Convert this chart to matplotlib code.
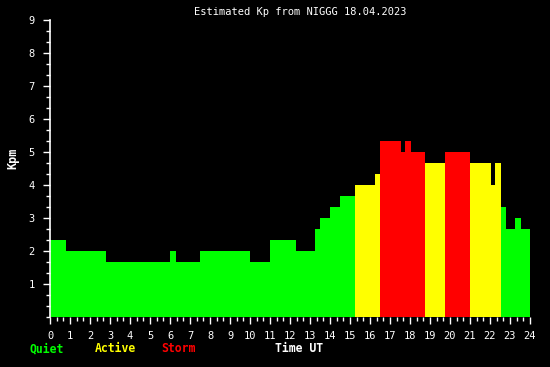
import matplotlib
matplotlib.use("Agg")
import matplotlib.pyplot as plt
import numpy as np

# Segment start times (hours UT) and Kp values
seg_start = [0, 0.8, 2.8, 6.0, 6.3, 7.5, 10.0, 11.0, 12.3, 13.25, 13.5, 14.0, 14.5,
             15.25, 16.25, 16.5, 17.55, 17.75, 18.05, 18.75, 19.75, 21.0, 22.05,
             22.25, 22.55, 22.8, 23.25, 23.55]
seg_end_last = 24.05
kp_values = [2.33, 2.0, 1.67, 2.0, 1.67, 2.0, 1.67, 2.33, 2.0, 2.67, 3.0, 3.33, 3.67,
             4.0, 4.33, 5.33, 5.0, 5.33, 5.0, 4.67, 5.0, 4.67, 4.0,
             4.67, 3.33, 2.67, 3.0, 2.67]
x_ticks = list(range(0, 25))
y_ticks = list(range(1, 10))
title = "Estimated Kp from NIGGG 18.04.2023"

def kp_color(v):
    if v >= 5:
        return "#FF0000"
    if v >= 4:
        return "#FFFF00"
    return "#00FF00"

starts = np.array(seg_start)
ends = np.append(starts[1:], seg_end_last)
widths = ends - starts
colors = [kp_color(v) for v in kp_values]

fig = plt.figure(figsize=(5.5, 3.67), dpi=100, facecolor="black")
ax = fig.add_axes([50/550, 50/367, 480/550, 297/367])
ax.set_facecolor("black")
ax.bar(starts, kp_values, width=widths, align="edge", color=colors, linewidth=0)
ax.set_xlim(0, 24)
ax.set_ylim(0, 9)

mono = "DejaVu Sans Mono"
for s in ["top", "right", "bottom"]:
    ax.spines[s].set_visible(False)
ax.spines["left"].set_color("white")
ax.spines["left"].set_linewidth(1.2)

ax.set_xticks(x_ticks)
ax.set_xticklabels([str(t) for t in x_ticks], fontfamily=mono, fontsize=7.5, color="white")
ax.set_xticks(np.arange(0, 24.01, 1/3), minor=True)
ax.set_yticks(y_ticks)
ax.set_yticklabels([str(t) for t in y_ticks], fontfamily=mono, fontsize=7.5, color="white")
ax.set_yticks(np.arange(0, 9.01, 1/3), minor=True)
ax.tick_params(axis="both", which="major", colors="white", length=5, width=1, direction="out")
ax.tick_params(axis="both", which="minor", colors="white", length=3, width=1, direction="out")
ax.tick_params(axis="x", which="major", pad=5)
ax.tick_params(axis="y", which="major", pad=6)

fig.text(300/550, 1 - 12/367, title, ha="center", va="center", fontfamily=mono,
         fontsize=7.5, color="white")
fig.text(13/550, 1 - 158/367, "Kpm", ha="center", va="center", rotation=90,
         fontfamily=mono, fontsize=8.5, fontweight="bold", color="white")

legend_items = [("Quiet", "#00FF00", 29), ("Active", "#FFFF00", 95),
                ("Storm", "#FF0000", 161), ("Time UT", "white", 275)]
for txt, col, xp in legend_items:
    fig.text(xp/550, 1 - 349/367, txt, ha="left", va="center", fontfamily=mono,
             fontsize=8.3, fontweight="bold", color=col)

fig.savefig("out.png", dpi=100, facecolor="black")
